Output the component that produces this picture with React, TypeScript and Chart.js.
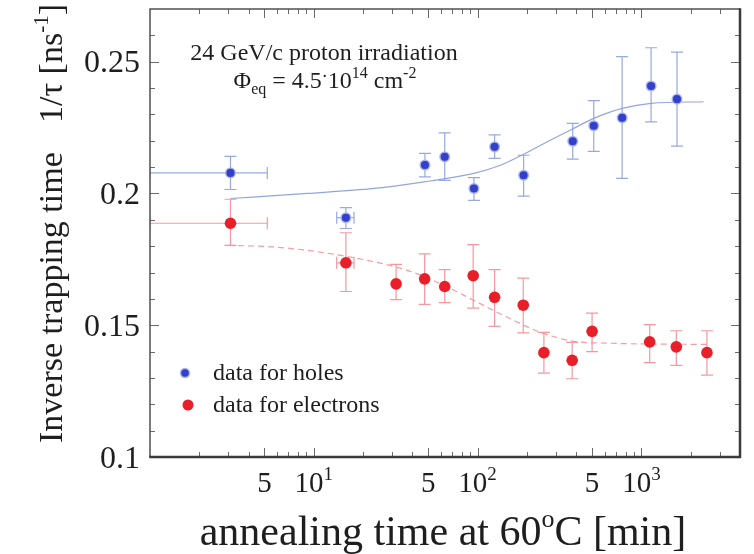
import React, { useEffect, useRef } from "react";
import { Chart, registerables } from "chart.js";

Chart.register(...registerables);

// ---- axis ranges and ticks ----
const X_MIN = 1;
const X_MAX = 4000;
const Y_MIN = 0.1;
const Y_MAX = 0.27;
const yMajorTicks = [0.1, 0.15, 0.2, 0.25];
const yMajorLabels = ["0.1", "0.15", "0.2", "0.25"];
const yMinorTicks = [0.11, 0.12, 0.13, 0.14, 0.16, 0.17, 0.18, 0.19, 0.21, 0.22, 0.23, 0.24, 0.26];
const xMajorTicks = [5, 10, 50, 100, 500, 1000];
const xMajorBase = ["5", "10", "5", "10", "5", "10"];
const xMajorExp = ["", "1", "", "2", "", "3"];
const xMinorTicks = [2, 3, 4, 6, 7, 8, 9, 20, 30, 40, 60, 70, 80, 90, 200, 300, 400, 600, 700, 800, 900, 2000, 3000];

// ---- holes (blue) ----
const holesX = [3.1, 15.7, 47.7, 63, 95, 127, 191, 381, 512, 763, 1146, 1650];
const holesY = [0.2078, 0.1908, 0.2108, 0.2139, 0.2019, 0.2177, 0.2069, 0.2198, 0.2257, 0.2287, 0.2408, 0.2358];
const holesYLow = [0.2015, 0.1867, 0.2063, 0.205, 0.1974, 0.2133, 0.199, 0.213, 0.216, 0.2057, 0.2272, 0.218];
const holesYHigh = [0.2141, 0.1946, 0.2152, 0.223, 0.206, 0.2222, 0.2145, 0.2266, 0.2352, 0.2519, 0.2553, 0.2536];
const holesXLow = [1, 13.8, null, null, null, null, null, null, null, null, null, null];
const holesXHigh = [5.2, 17.6, null, null, null, null, null, null, null, null, null, null];

// ---- electrons (red) ----
const elecX = [3.1, 15.7, 31.8, 47.5, 63, 94, 127, 190, 254, 378, 500, 1124, 1634, 2513];
const elecY = [0.1887, 0.1737, 0.1657, 0.1676, 0.1647, 0.1688, 0.1606, 0.1576, 0.1396, 0.1367, 0.1477, 0.1437, 0.1418, 0.1396];
const elecYLow = [0.1803, 0.1628, 0.1597, 0.1579, 0.1586, 0.1565, 0.1496, 0.1471, 0.1318, 0.1297, 0.14, 0.1358, 0.1348, 0.1311];
const elecYHigh = [0.1978, 0.1851, 0.1731, 0.1771, 0.1711, 0.1806, 0.1711, 0.1679, 0.1473, 0.1435, 0.1546, 0.1502, 0.1479, 0.1479];
const elecXLow = [1, 13.8, null, null, null, null, null, null, null, null, null, null, null, null];
const elecXHigh = [5.2, 17.6, null, null, null, null, null, null, null, null, null, null, null, null];

// ---- fit curves ----
const holesFitX = [3.1, 9.15, 23.3, 47.1, 95, 135, 191, 266, 386, 512, 763, 1146, 2400];
const holesFitY = [0.1981, 0.2, 0.2019, 0.2044, 0.2076, 0.2105, 0.2149, 0.2196, 0.2247, 0.2285, 0.2323, 0.2342, 0.2348];
const elecFitX = [3, 5.73, 14.6, 37.3, 59.5, 95, 152, 242, 386, 618, 2513];
const elecFitY = [0.1803, 0.1797, 0.1765, 0.1708, 0.1657, 0.1594, 0.153, 0.1473, 0.1439, 0.1432, 0.1427];

const FONT = "'Liberation Serif', 'Times New Roman', serif";
const TEXT = "#1e1e1e";

type Part = { t: string; size: number; dy?: number };

function richWidth(ctx: CanvasRenderingContext2D, parts: Part[]) {
  let w = 0;
  for (const p of parts) {
    ctx.font = `${p.size}px ${FONT}`;
    w += ctx.measureText(p.t).width;
  }
  return w;
}

function drawRich(ctx: CanvasRenderingContext2D, parts: Part[], x: number, y: number, align: "left" | "center" | "right") {
  const w = richWidth(ctx, parts);
  let cx = align === "left" ? x : align === "center" ? x - w / 2 : x - w;
  ctx.textAlign = "left";
  ctx.textBaseline = "alphabetic";
  for (const p of parts) {
    ctx.font = `${p.size}px ${FONT}`;
    ctx.fillText(p.t, cx, y + (p.dy || 0));
    cx += ctx.measureText(p.t).width;
  }
}

const errorBars = {
  id: "errorBars",
  beforeDatasetsDraw(chart: any) {
    const { ctx } = chart;
    const xs = chart.scales.x;
    const ys = chart.scales.y;
    const area = chart.chartArea;
    const draw = (X: number[], Y: number[], lo: number[], hi: number[], xlo: (number | null)[], xhi: (number | null)[], color: string) => {
      ctx.save();
      ctx.beginPath();
      ctx.rect(area.left, area.top, area.right - area.left, area.bottom - area.top);
      ctx.clip();
      ctx.strokeStyle = color;
      ctx.lineWidth = 1.2;
      const cap = 6;
      for (let i = 0; i < X.length; i++) {
        const px = xs.getPixelForValue(X[i]);
        const py = ys.getPixelForValue(Y[i]);
        const pl = ys.getPixelForValue(lo[i]);
        const ph = ys.getPixelForValue(hi[i]);
        ctx.beginPath();
        ctx.moveTo(px, pl);
        ctx.lineTo(px, ph);
        ctx.moveTo(px - cap, pl);
        ctx.lineTo(px + cap, pl);
        ctx.moveTo(px - cap, ph);
        ctx.lineTo(px + cap, ph);
        if (xlo[i] != null && xhi[i] != null) {
          const xl = xs.getPixelForValue(xlo[i] as number);
          const xh = xs.getPixelForValue(xhi[i] as number);
          ctx.moveTo(xl, py);
          ctx.lineTo(xh, py);
          ctx.moveTo(xl, py - cap);
          ctx.lineTo(xl, py + cap);
          ctx.moveTo(xh, py - cap);
          ctx.lineTo(xh, py + cap);
        }
        ctx.stroke();
      }
      ctx.restore();
    };
    draw(holesX, holesY, holesYLow, holesYHigh, holesXLow, holesXHigh, "rgba(125,148,215,0.8)");
    draw(elecX, elecY, elecYLow, elecYHigh, elecXLow, elecXHigh, "rgba(242,125,135,0.8)");
  },
};

const decorations = {
  id: "decorations",
  afterDatasetsDraw(chart: any) {
    const { ctx } = chart;
    const xs = chart.scales.x;
    const ys = chart.scales.y;
    const a = chart.chartArea;
    ctx.save();

    // ticks (inward on all four sides)
    ctx.strokeStyle = "#6a6a6a";
    ctx.lineWidth = 1;
    ctx.beginPath();
    const yTick = (v: number, len: number) => {
      const py = Math.round(ys.getPixelForValue(v)) + 0.5;
      ctx.moveTo(a.left, py);
      ctx.lineTo(a.left + len, py);
      ctx.moveTo(a.right, py);
      ctx.lineTo(a.right - len, py);
    };
    const xTick = (v: number, len: number) => {
      const px = Math.round(xs.getPixelForValue(v)) + 0.5;
      ctx.moveTo(px, a.bottom);
      ctx.lineTo(px, a.bottom - len);
      ctx.moveTo(px, a.top);
      ctx.lineTo(px, a.top + len);
    };
    yMajorTicks.forEach((v) => yTick(v, 9));
    yMinorTicks.forEach((v) => yTick(v, 5));
    xMajorTicks.forEach((v) => xTick(v, 9));
    xMinorTicks.forEach((v) => xTick(v, 5));
    ctx.stroke();

    // frame
    ctx.strokeStyle = "#505050";
    ctx.lineWidth = 1.5;
    ctx.beginPath();
    ctx.moveTo(a.left, a.bottom);
    ctx.lineTo(a.left, a.top);
    ctx.lineTo(a.right, a.top);
    ctx.stroke();
    ctx.strokeStyle = "#3a3a3a";
    ctx.lineWidth = 2.5;
    ctx.beginPath();
    ctx.moveTo(a.left - 0.75, a.bottom);
    ctx.lineTo(a.right, a.bottom);
    ctx.lineTo(a.right, a.top - 0.75);
    ctx.stroke();

    ctx.fillStyle = TEXT;
    // y tick labels
    ctx.font = `32px ${FONT}`;
    ctx.textAlign = "right";
    ctx.textBaseline = "alphabetic";
    yMajorTicks.forEach((v, i) => {
      ctx.fillText(yMajorLabels[i], a.left - 10, ys.getPixelForValue(v) + 10.5);
    });

    // x tick labels
    xMajorTicks.forEach((v, i) => {
      const px = xs.getPixelForValue(v);
      const parts: Part[] = [{ t: xMajorBase[i], size: 29 }];
      if (xMajorExp[i]) parts.push({ t: xMajorExp[i], size: 19, dy: -12 });
      drawRich(ctx, parts, px, a.bottom + 35, "center");
    });

    // x title
    drawRich(
      ctx,
      [
        { t: "annealing time at 60", size: 42 },
        { t: "o", size: 26, dy: -18 },
        { t: "C [min]", size: 42 },
      ],
      443,
      545,
      "center"
    );

    // y title (rotated)
    ctx.save();
    ctx.translate(62, 443);
    ctx.rotate(-Math.PI / 2);
    drawRich(ctx, [{ t: "Inverse trapping time", size: 34 }], 0, 0, "left");
    drawRich(
      ctx,
      [
        { t: "1/τ [ns", size: 34 },
        { t: "-1", size: 21, dy: -14 },
        { t: "]", size: 34 },
      ],
      320,
      0,
      "left"
    );
    ctx.restore();

    // annotation
    ctx.fillStyle = TEXT;
    drawRich(ctx, [{ t: "24 GeV/c proton irradiation", size: 24 }], a.left + 174, a.top + 51, "center");
    drawRich(
      ctx,
      [
        { t: "Φ", size: 24 },
        { t: "eq", size: 16, dy: 6 },
        { t: " = 4.5", size: 24 },
        { t: "·", size: 18, dy: -6 },
        { t: "10", size: 24 },
        { t: "14", size: 16, dy: -10 },
        { t: " cm", size: 24 },
        { t: "-2", size: 16, dy: -10 },
      ],
      a.left + 175,
      a.top + 79,
      "center"
    );

    // legend
    ctx.beginPath();
    ctx.arc(a.left + 35, a.top + 364, 4.5, 0, Math.PI * 2);
    ctx.fillStyle = "#3440cc";
    ctx.fill();
    ctx.strokeStyle = "rgba(170,182,236,0.95)";
    ctx.lineWidth = 1.5;
    ctx.stroke();
    ctx.beginPath();
    ctx.arc(a.left + 38, a.top + 396, 5.5, 0, Math.PI * 2);
    ctx.fillStyle = "#e81e28";
    ctx.fill();
    ctx.fillStyle = TEXT;
    drawRich(ctx, [{ t: "data for holes", size: 24 }], a.left + 63, a.top + 371, "left");
    drawRich(ctx, [{ t: "data for electrons", size: 24 }], a.left + 63, a.top + 403, "left");

    ctx.restore();
  },
};

export default function App() {
  const ref = useRef<HTMLCanvasElement | null>(null);
  useEffect(() => {
    document.body.style.margin = "0";
    const canvas = ref.current!;
    const chart = new Chart(canvas, {
      type: "scatter",
      data: {
        datasets: [
          {
            label: "holes fit",
            data: holesFitX.map((x, i) => ({ x, y: holesFitY[i] })),
            showLine: true,
            pointRadius: 0,
            borderColor: "rgba(140,160,222,0.95)",
            borderWidth: 1.2,
            cubicInterpolationMode: "monotone",
            order: 3,
          },
          {
            label: "electrons fit",
            data: elecFitX.map((x, i) => ({ x, y: elecFitY[i] })),
            showLine: true,
            pointRadius: 0,
            borderColor: "rgba(244,150,158,0.95)",
            borderWidth: 1.2,
            borderDash: [6, 4],
            cubicInterpolationMode: "monotone",
            order: 3,
          },
          {
            label: "data for holes",
            data: holesX.map((x, i) => ({ x, y: holesY[i] })),
            pointRadius: 4.8,
            pointBackgroundColor: "#3440cc",
            pointBorderColor: "rgba(170,182,236,0.95)",
            pointBorderWidth: 1.5,
            order: 1,
          },
          {
            label: "data for electrons",
            data: elecX.map((x, i) => ({ x, y: elecY[i] })),
            pointRadius: 5.8,
            pointBackgroundColor: "#e81e28",
            pointBorderColor: "#e81e28",
            pointBorderWidth: 0,
            order: 1,
          },
        ],
      },
      options: {
        animation: false,
        responsive: false,
        maintainAspectRatio: false,
        devicePixelRatio: 1,
        layout: { padding: { left: 150, top: 9, right: 14, bottom: 97 } },
        plugins: { legend: { display: false }, tooltip: { enabled: false } },
        scales: {
          x: { type: "logarithmic", min: X_MIN, max: X_MAX, display: false },
          y: { type: "linear", min: Y_MIN, max: Y_MAX, display: false },
        },
      },
      plugins: [errorBars, decorations],
    } as any);
    return () => chart.destroy();
  }, []);
  return (
    <div style={{ width: 754, height: 554, background: "#fff" }}>
      <canvas ref={ref} width={754} height={554} style={{ display: "block" }} />
    </div>
  );
}
